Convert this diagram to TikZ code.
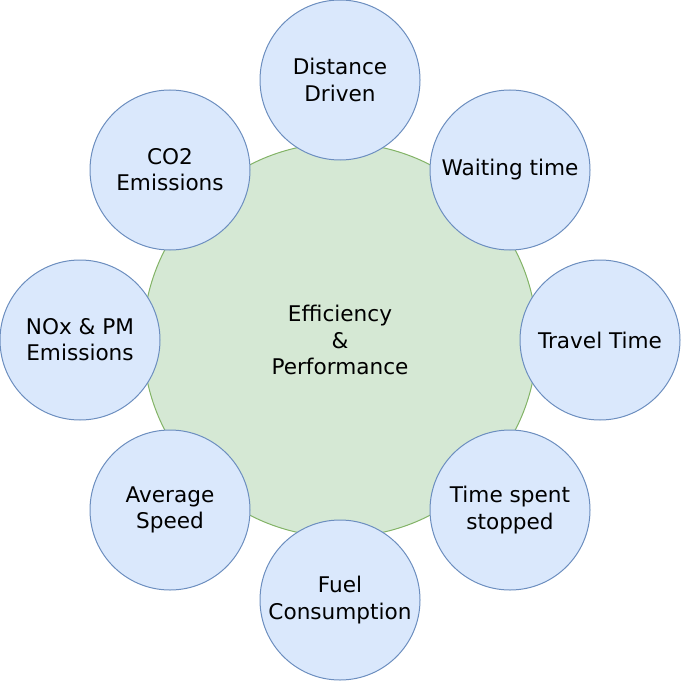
\documentclass[tikz,border=0pt]{standalone}
\usepackage{fontspec}
\setmainfont{DejaVu Sans}
\usepackage{xcolor}
\usepackage{tikz}
\usetikzlibrary{positioning}

\definecolor{hubfill}{HTML}{D5E8D4}
\definecolor{hubline}{HTML}{82B366}
\definecolor{bubfill}{HTML}{DAE8FC}
\definecolor{bubline}{HTML}{6C8EBF}

\tikzset{
	hub/.style={circle, draw=hubline, fill=hubfill, line width=0.75pt, minimum size=295.5pt, inner sep=0pt, align=center},
	bubble/.style={circle, draw=bubline, fill=bubfill, line width=0.75pt, minimum size=120pt, inner sep=0pt, align=center},
}

\begin{document}
\begin{tikzpicture}[x=0.75pt, y=-0.75pt, font=\fontsize{16.2pt}{19.6pt}\selectfont]
			\useasboundingbox (0,0) rectangle (681,681);
			\node [hub] (core) at (340,340) {Efficiency\\\&\\Performance};
			\node [bubble] (dist) at (340,80) {Distance\\Driven};
			\node [bubble] (wait) at (510,170) {Waiting time};
			\node [bubble] (travel) at (600,340) {Travel Time};
			\node [bubble] (stop) at (510,510) {Time spent\\stopped};
			\node [bubble] (fuel) at (340,600) {Fuel\\Consumption};
			\node [bubble] (speed) at (170,510) {Average\\Speed};
			\node [bubble] (nox) at (80,340) {NOx \& PM\\Emissions};
			\node [bubble] (co2) at (170,170) {CO2\\Emissions};
		\end{tikzpicture}
\end{document}
